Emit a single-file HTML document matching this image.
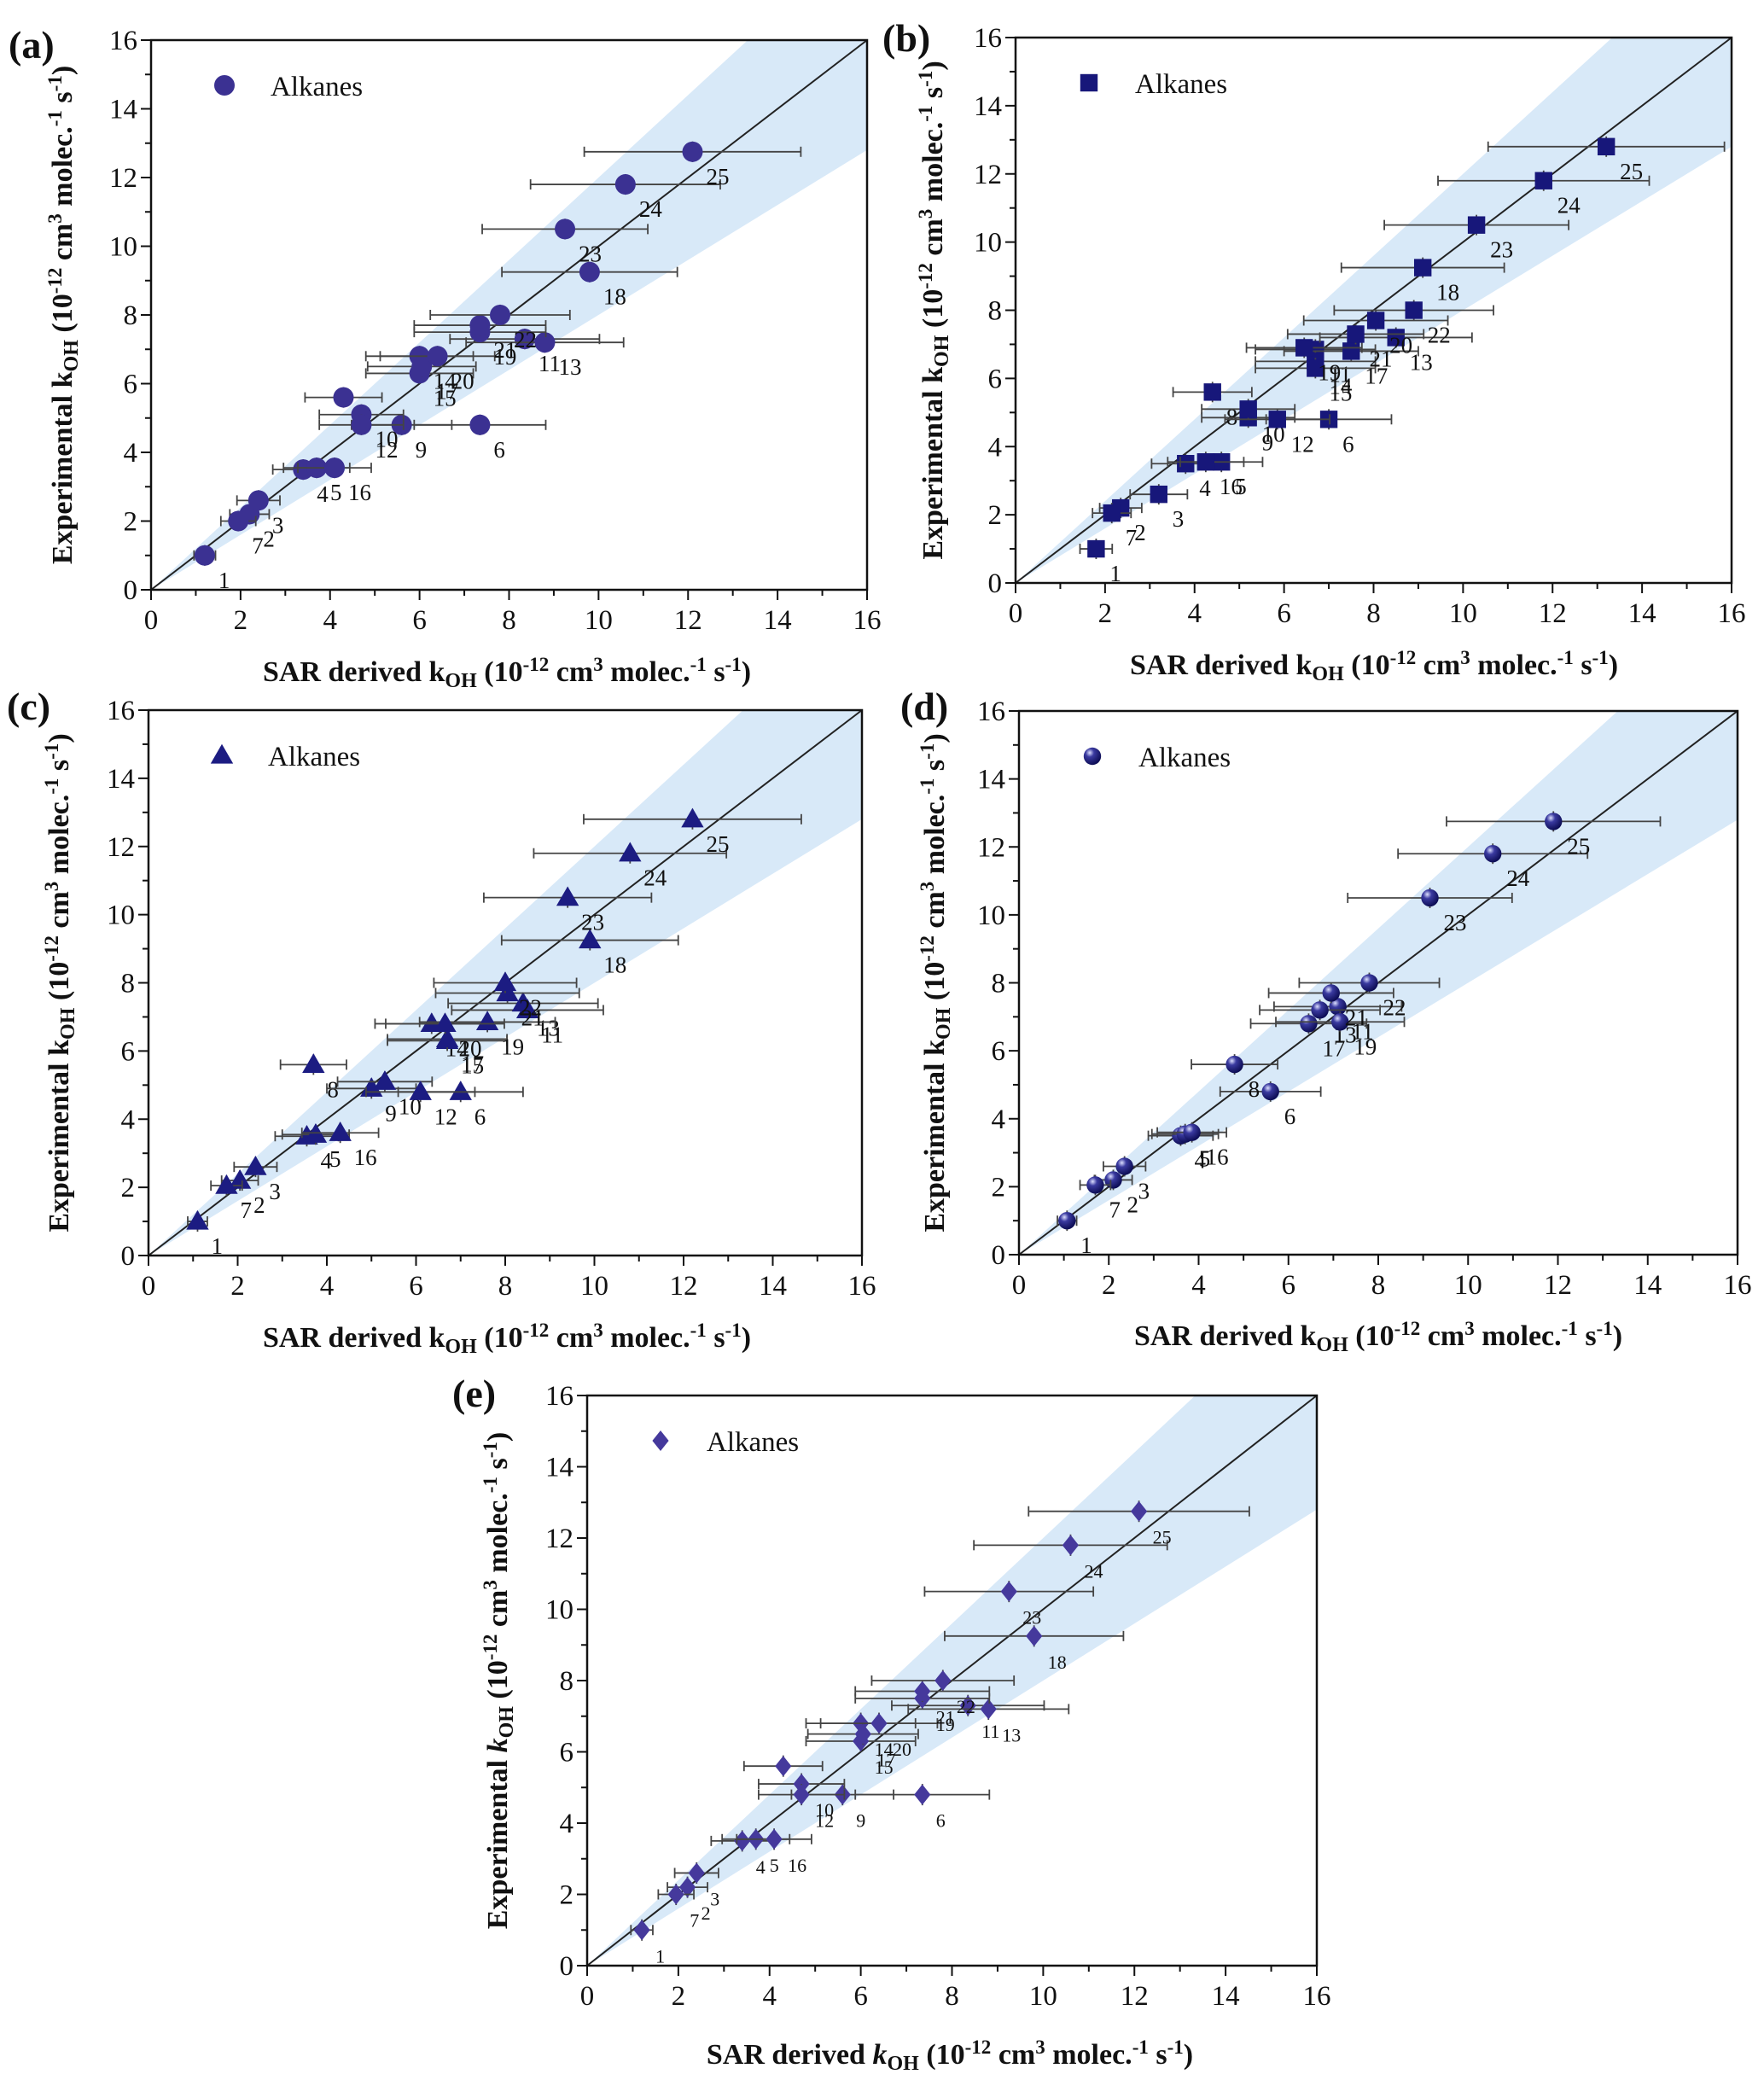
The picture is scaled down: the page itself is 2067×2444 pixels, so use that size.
<!DOCTYPE html>
<html><head><meta charset="utf-8">
<style>
html,body{margin:0;padding:0;background:#fff;}
svg, svg text{font-family:"Liberation Serif","Times New Roman",Times,serif;}
svg{display:block;}
</style></head>
<body>
<svg id="fig" width="2067" height="2444" viewBox="0 0 2067 2444" xmlns="http://www.w3.org/2000/svg"></svg>
<script>
const labels = [1,2,3,4,5,6,7,8,9,10,11,12,13,14,15,16,17,18,19,20,21,22,23,24,25];
const yExp   = [1.0,2.2,2.6,3.5,3.55,4.8,2.0,5.6,4.8,5.1,7.3,4.8,7.2,6.8,6.3,3.55,6.5,9.25,7.5,6.8,7.7,8.0,10.5,11.8,12.75];
const xA = [1.2,2.2,2.4,3.4,3.7,7.35,1.95,4.3,5.6,4.7,8.35,4.7,8.8,6.0,6.0,4.1,6.05,9.8,7.35,6.4,7.35,7.8,9.25,10.6,12.1];
const xB = [1.8,2.35,3.2,3.8,4.6,7.0,2.15,4.4,5.2,5.2,6.7,5.85,8.5,6.7,6.7,4.25,7.5,9.1,6.45,8.05,7.6,8.9,10.3,11.8,13.2];
const yB = [1.0,2.2,2.6,3.5,3.55,4.8,2.05,5.6,4.85,5.1,6.85,4.8,7.2,6.5,6.3,3.55,6.8,9.25,6.9,7.7,7.3,8.0,10.5,11.8,12.8];
const xC = [1.1,2.05,2.4,3.55,3.75,7.0,1.75,3.7,5.0,5.3,8.5,6.1,8.4,6.35,6.7,4.3,6.7,9.9,7.6,6.65,8.05,8.0,9.4,10.8,12.2];
const yC = [1.0,2.2,2.6,3.5,3.55,4.8,2.05,5.6,4.9,5.1,7.2,4.8,7.4,6.8,6.3,3.6,6.35,9.25,6.85,6.8,7.7,8.0,10.5,11.8,12.8];
const labelsD = [1,2,3,4,5,6,7,8,11,13,16,17,19,21,22,23,24,25];
const xD = [1.07,2.1,2.35,3.6,3.7,5.6,1.7,4.8,7.1,6.7,3.85,6.45,7.15,6.95,7.8,9.15,10.55,11.9];
const yD = [1.0,2.2,2.6,3.5,3.55,4.8,2.05,5.6,7.3,7.2,3.6,6.8,6.85,7.7,8.0,10.5,11.8,12.75];
const xE = xA, yE = yExp;
const xTicks = [0,2,4,6,8,10,12,14,16];

const NS="http://www.w3.org/2000/svg";
const FF='"Liberation Serif","Times New Roman",Times,serif';
const fig=document.getElementById('fig');
function mk(tag,attrs,parent){const e=document.createElementNS(NS,tag);for(const k in attrs)e.setAttribute(k,attrs[k]);if(tag==='text')e.setAttribute('font-family',FF);(parent||fig).appendChild(e);return e;}

const panels=[
 {id:'a',x0:177,x1:1016,y0:691,y1:47,xs:xA,ys:yExp,lb:labels,marker:'circle',col:'#3b3192',lab:[10,68],xt:[594,798],yt:84,italic:false},
 {id:'b',x0:1190,x1:2029,y0:683,y1:44,xs:xB,ys:yB,lb:labels,marker:'square',col:'#17177a',lab:[1034,60],xt:[1610,790],yt:1104,italic:false},
 {id:'c',x0:174,x1:1010,y0:1471,y1:832,xs:xC,ys:yC,lb:labels,marker:'triangle',col:'#1c1c82',lab:[8,843],xt:[594,1578],yt:80,italic:false},
 {id:'d',x0:1194,x1:2036,y0:1470,y1:833,xs:xD,ys:yD,lb:labelsD,marker:'sphere',col:'#25258a',lab:[1055,843],xt:[1615,1576],yt:1106,italic:false},
 {id:'e',x0:688,x1:1543,y0:2303,y1:1635,xs:xE,ys:yE,lb:labels,marker:'diamond',col:'#45399c',lab:[530,1648],xt:[1113,2418],yt:594,italic:true}
];

const defs=mk('defs',{});
const rg=mk('radialGradient',{id:'sph',cx:'35%',cy:'30%',r:'70%'},defs);
mk('stop',{offset:'0%','stop-color':'#dde0ff'},rg);
mk('stop',{offset:'35%','stop-color':'#3a3aa0'},rg);
mk('stop',{offset:'100%','stop-color':'#0d0d55'},rg);

function drawMarker(g,type,cx,cy,col,s){
  if(type==='circle') return mk('circle',{cx:cx,cy:cy,r:s,fill:col},g);
  if(type==='sphere') return mk('circle',{cx:cx,cy:cy,r:s*0.85,fill:'url(#sph)'},g);
  if(type==='square') return mk('rect',{x:cx-s*0.85,y:cy-s*0.85,width:s*1.7,height:s*1.7,fill:col},g);
  if(type==='triangle') return mk('polygon',{points:`${cx},${cy-s*1.1} ${cx-s*1.1},${cy+s*0.8} ${cx+s*1.1},${cy+s*0.8}`,fill:col},g);
  if(type==='diamond') return mk('polygon',{points:`${cx},${cy-s} ${cx+s*0.8},${cy} ${cx},${cy+s} ${cx-s*0.8},${cy}`,fill:col},g);
}

panels.forEach(p=>{
  const g=mk('g',{});
  
  
  const sx=v=>p.x0+(p.x1-p.x0)*v/16;
  const sy=v=>p.y0+(p.y1-p.y0)*v/16;
  const band=mk('polygon',{points:`${sx(0)},${sy(0)} ${sx(16/1.2)},${sy(16)} ${sx(16)},${sy(16)} ${sx(16)},${sy(16*0.8)}`,fill:'#d8e9f8'},g);
  
  
  const ln=mk('line',{x1:sx(0),y1:sy(0),x2:sx(16),y2:sy(16),stroke:'#222','stroke-width':2},g);
  
  
  const fr=mk('rect',{x:p.x0,y:p.y1,width:p.x1-p.x0,height:p.y0-p.y1,fill:'none',stroke:'#111','stroke-width':2.5},g);
  
  
  for(let v=0;v<=16;v++){
    const len=v%2===0?12:7;
    mk('line',{x1:sx(v),y1:p.y0,x2:sx(v),y2:p.y0+len,stroke:'#111','stroke-width':2},g);
    mk('line',{x1:p.x0,y1:sy(v),x2:p.x0-len,y2:sy(v),stroke:'#111','stroke-width':2},g);
  }
  xTicks.forEach(v=>{
    const t=mk('text',{x:sx(v),y:p.y0+46,'text-anchor':'middle','font-size':33,fill:'#111'},g);
    t.textContent=v;
    
    
    const u=mk('text',{x:p.x0-16,y:sy(v)+11,'text-anchor':'end','font-size':33,fill:'#111'},g);
    u.textContent=v;
    
    
  });
  p.xs.forEach((xv,i)=>{
    const yv=p.ys[i];
    const e=0.2*xv;
    const pg=mk('g',{},g);
    
    
    const st={stroke:'#444','stroke-width':1.8};
    mk('line',Object.assign({x1:sx(xv-e),y1:sy(yv),x2:sx(xv+e),y2:sy(yv)},st),pg);
    mk('line',Object.assign({x1:sx(xv-e),y1:sy(yv)-6,x2:sx(xv-e),y2:sy(yv)+6},st),pg);
    mk('line',Object.assign({x1:sx(xv+e),y1:sy(yv)-6,x2:sx(xv+e),y2:sy(yv)+6},st),pg);
    mk('line',Object.assign({x1:sx(xv),y1:sy(yv-0.3),x2:sx(xv),y2:sy(yv+0.3)},st),pg);
    drawMarker(pg,p.marker,sx(xv),sy(yv),p.col,12);
    const lt=mk('text',{x:sx(xv)+16,y:sy(yv)+38,'font-size':p.id==='e'?22:27,fill:'#111'},pg);
    lt.textContent=p.lb[i];
  });
  const lg=mk('g',{},g);
  
  
  drawMarker(lg,p.marker,p.x0+86,p.y1+53,p.col,12);
  const lgt=mk('text',{x:p.x0+140,y:p.y1+65,'font-size':33,fill:'#111'},lg);
  lgt.textContent='Alkanes';
  const pl=mk('text',{x:p.lab[0],y:p.lab[1],'font-size':46,'font-weight':'bold',fill:'#111'},g);
  pl.textContent='('+p.id+')';
  
  
  const k=p.italic?'<tspan font-style="italic">k</tspan>':'k';
  const body=`<tspan baseline-shift="-30%" font-size="24">OH</tspan><tspan> (10</tspan><tspan baseline-shift="super" font-size="23">-12</tspan><tspan> cm</tspan><tspan baseline-shift="super" font-size="23">3</tspan><tspan> molec.</tspan><tspan baseline-shift="super" font-size="23">-1</tspan><tspan> s</tspan><tspan baseline-shift="super" font-size="23">-1</tspan><tspan>)</tspan>`;
  const xt=mk('text',{x:p.xt[0],y:p.xt[1],'text-anchor':'middle','font-size':34,'font-weight':'bold',fill:'#111'},g);
  xt.innerHTML='SAR derived '+k+body;
  
  
  const cy=(p.y0+p.y1)/2;
  const yt=mk('text',{x:p.yt,y:cy,'text-anchor':'middle','font-size':34,'font-weight':'bold',fill:'#111',transform:`rotate(-90 ${p.yt} ${cy})`},g);
  yt.innerHTML='Experimental '+k+body;
  
  
});
</script>
</body></html>
